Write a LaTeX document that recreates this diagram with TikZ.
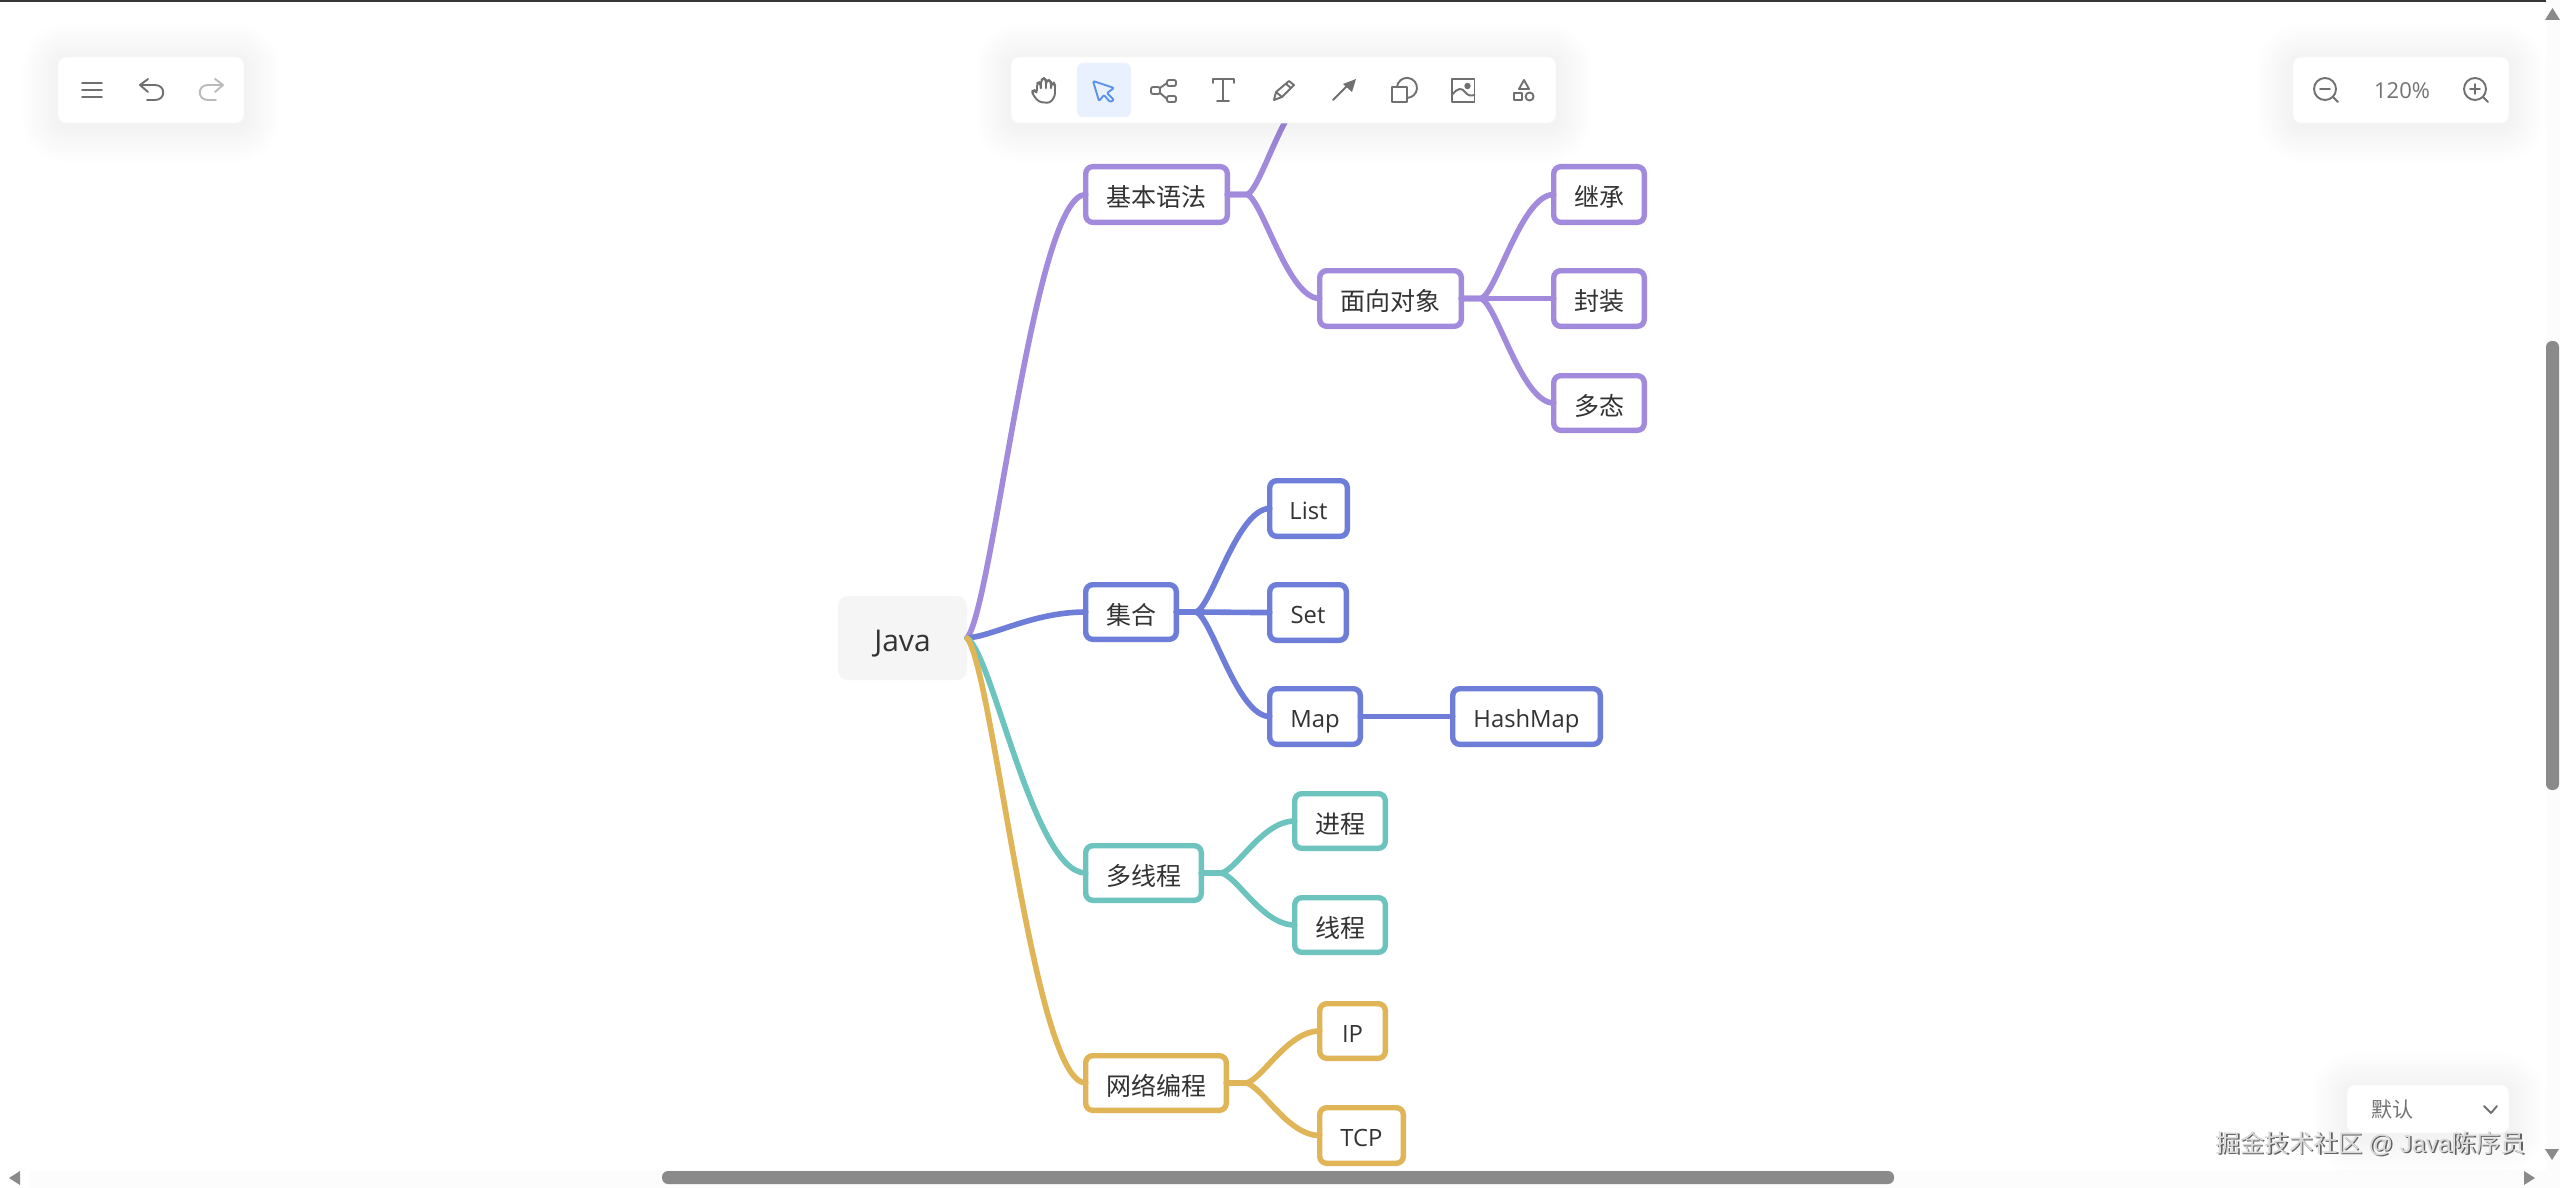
\documentclass[tikz,border=0pt]{standalone}
\usepackage{fontspec}
\setmainfont{Open Sans}
\newfontfamily\cjk{Noto Sans CJK SC}
\newfontfamily\wmfont{Liberation Sans}
\usetikzlibrary{calc}
\definecolor{cpurple}{HTML}{A28ADC}
\definecolor{cblue}{HTML}{6E7ED8}
\definecolor{cteal}{HTML}{6DC4BE}
\definecolor{cgold}{HTML}{DFB558}
\definecolor{ctext}{HTML}{333333}
\definecolor{cicon}{HTML}{707070}
\definecolor{cbar}{HTML}{8A8A8A}
\definecolor{ctrack}{HTML}{FCFCFC}
\definecolor{csel}{HTML}{E9F1FE}
\definecolor{ccur}{HTML}{5C93EC}
\tikzset{
  mapbox/.style={draw=#1,line width=2.7pt,fill=white,rounded corners=3.5pt,inner sep=0pt,outer sep=0pt,text=ctext,text height=11pt,text depth=0pt,font=\fontsize{12.5}{14}\selectfont},
  cjkbox/.style={mapbox=#1,text height=12.2pt},
  rootbox/.style={fill=black!4,rounded corners=5pt,inner sep=0pt,outer sep=0pt,text=ctext,text height=13.8pt,text depth=0pt,font=\fontsize{15}{18}\selectfont},
  link/.style={draw=#1,line width=2.8pt,line cap=round},
  iconline/.style={draw=cicon,line width=.95pt,line cap=round,line join=round},
  panelbox/.style={fill=white,draw=black!3,line width=.4pt,rounded corners=4pt},
}
\newcommand\latin{\fontsize{11.9}{14}\selectfont}
\newcommand\mapnode[7]{% name x1 y1 x2 y2 style text
  \pgfmathsetmacro\mw{(#4-#2-5.4)*0.5}\pgfmathsetmacro\mh{(#5-#3-5.4)*0.5}
  \node[#6,minimum width=\mw pt,minimum height=\mh pt] (#1) at ({(#2+#4)/2},{(#3+#5)/2}) {#7};}
% colour, from node, to node/coordinate, stub in pt
\newcommand\branch[4]{%
  \draw[link=#1] let \p1=(#2.east),\n1={\x1+#4},\p2=(#3) in (\p1) -- (\n1,\y1)
    .. controls ({\n1+0.22*(\x2-\n1)},{\y1+0.07*(\y2-\y1)}) and ({\n1+0.56*(\x2-\n1)},\y2) .. (\p2);}
\newcommand\panel[4]{%
  \foreach \i in {1,...,12}{\fill[black,opacity=.002,rounded corners={4pt+\i*1.5pt}] ({#1-\i*3},{#2-\i*3+3}) rectangle ({#3+\i*3},{#4+\i*3+3});}
  \path[panelbox] (#1,#2) rectangle (#3,#4);}
\begin{document}
\begin{tikzpicture}[x=0.5pt,y=-0.5pt]
\useasboundingbox (0,0) rectangle (2560,1188);
\fill[white] (0,0) rectangle (2560,1188);
% map nodes
\node[rootbox,minimum width=64.5pt,minimum height=42pt] (java) at (902.5,638) {Java};
\mapnode{jb}{1083}{164}{1230}{225}{cjkbox=cpurple}{\cjk 基本语法}
\mapnode{oo}{1317}{268}{1464}{329}{cjkbox=cpurple}{\cjk 面向对象}
\mapnode{jc}{1551}{164}{1647}{225}{cjkbox=cpurple}{\cjk 继承}
\mapnode{fz}{1551}{268}{1647}{329}{cjkbox=cpurple}{\cjk 封装}
\mapnode{dt}{1551}{373}{1647}{433}{cjkbox=cpurple}{\cjk 多态}
\mapnode{jh}{1083}{582}{1179}{642}{cjkbox=cblue}{\cjk 集合}
\mapnode{list}{1267}{478}{1350}{539}{mapbox=cblue}{\latin List}
\mapnode{set}{1267}{582}{1349}{643}{mapbox=cblue}{\latin Set}
\mapnode{map}{1267}{686}{1363}{747}{mapbox=cblue}{\latin Map}
\mapnode{hm}{1450}{686}{1603}{747}{mapbox=cblue}{\latin HashMap}
\mapnode{dx}{1083}{843}{1204}{903}{cjkbox=cteal}{\cjk 多线程}
\mapnode{jc2}{1292}{791}{1388}{851}{cjkbox=cteal}{\cjk 进程}
\mapnode{xc}{1292}{895}{1388}{955}{cjkbox=cteal}{\cjk 线程}
\mapnode{wl}{1083}{1053}{1229}{1113}{cjkbox=cgold}{\cjk 网络编程}
\mapnode{ip}{1317}{1001}{1388}{1061}{mapbox=cgold}{\latin IP}
\mapnode{tcp}{1317}{1105}{1406}{1166}{mapbox=cgold}{\latin TCP}
\coordinate (hid) at (1317,90);
% connectors
\coordinate (jbw) at (jb.west); \coordinate (jhw) at (jh.west); \coordinate (dxw) at (dx.west); \coordinate (wlw) at (wl.west);
\branch{cpurple}{java}{jbw}{0pt}
\branch{cblue}{java}{jhw}{0pt}
\branch{cteal}{java}{dxw}{0pt}
\branch{cgold}{java}{wlw}{0pt}
\foreach \c/\a/\b in {cpurple/jb/hid,cpurple/jb/oo.west,cpurple/oo/jc.west,cpurple/oo/fz.west,cpurple/oo/dt.west,
  cblue/jh/list.west,cblue/jh/set.west,cblue/jh/map.west,cblue/map/hm.west,
  cteal/dx/jc2.west,cteal/dx/xc.west,cgold/wl/ip.west,cgold/wl/tcp.west}{\branch{\c}{\a}{\b}{10pt}}
% top edge
\fill[black!78] (0,0) rectangle (2560,2);
% scrollbars
\fill[ctrack] (2546,0) rectangle (2560,1188);
\fill[ctrack] (30,1170) rectangle (2546,1188);
\fill[cbar,rounded corners=3pt] (2546,341) rectangle (2559,790);
\fill[cbar,rounded corners=3pt] (662,1171) rectangle (1894,1184);
\fill[cbar] (2552.5,8) -- (2560,20) -- (2545,20) -- cycle;
\fill[cbar] (2545,1149) -- (2559,1149) -- (2552,1160) -- cycle;
\fill[cbar] (9,1178) -- (20,1171) -- (20,1185) -- cycle;
\fill[cbar] (2535,1178) -- (2524,1171) -- (2524,1185) -- cycle;
% left panel
\panel{58}{57}{244}{123}
\draw[iconline] (82,83) -- (102,83) (82,90) -- (102,90) (82,97) -- (102,97);
\draw[iconline] (148,79) -- (140,85) -- (148,92) (140,85) -- (155,85) .. controls (166,85) and (166,100) .. (155,100) -- (147,100);
\draw[iconline,draw=black!27] (215,79) -- (223,85) -- (215,92) (223,85) -- (208,85) .. controls (197,85) and (197,100) .. (208,100) -- (216,100);
% centre toolbar
\panel{1011}{57}{1556}{123}
\fill[csel,rounded corners=3pt] (1077,63) rectangle (1131,117);
\draw[iconline,rounded corners=1.5pt] (1039,102) -- (1033,95) -- (1032,91) -- (1035,90) -- (1037,93) -- (1037,83) -- (1040,82) -- (1041,90) -- (1041,80) -- (1044,78) -- (1046,80) -- (1046,90) -- (1046,81) -- (1049,80) -- (1051,82) -- (1051,90) -- (1051,84) -- (1054,83) -- (1055,85) -- (1055,96) -- (1050,103) -- cycle;
\draw[iconline,draw=ccur,rounded corners=.6pt] (1093,81) -- (1114,88) -- (1107,93) -- (1114,100) -- (1110,102) -- (1104,95) -- (1099,101) -- cycle;
\draw[iconline,rounded corners=1pt] (1151,87) rectangle (1160,94) (1167,80) rectangle (1176,86) (1167,96) rectangle (1176,102);
\draw[iconline] (1160,88) -- (1167,83) (1160,93) -- (1167,99);
\draw[iconline] (1213,83) -- (1213,79) -- (1234,79) -- (1234,83) (1223,79) -- (1223,101) (1217,101) -- (1229,101);
\draw[iconline] (1274,100) -- (1276,92) -- (1289,81) -- (1294,85) -- (1282,97) -- cycle (1276,92) -- (1282,97) (1286,84) -- (1291,88);
\draw[iconline] (1333,100) -- (1348,85);
\fill[cicon] (1356,79) -- (1352,92) -- (1343,84) -- cycle;
\draw[iconline] (1392,87) rectangle (1407,102);
\draw[iconline] (1397,87) arc[start angle=175,end angle=-90,radius=5pt];
\draw[iconline] (1452,79) rectangle (1474.5,102);
\fill[cicon] (1467.5,86) circle (1.6pt);
\draw[iconline] (1452,95) .. controls (1458,87) and (1462,88) .. (1465,92) .. controls (1468,96) and (1471,96) .. (1474.5,95);
\draw[iconline] (1524,80) -- (1529,89) -- (1519,89) -- cycle;
\draw[iconline] (1514,93) rectangle (1522,100);
\draw[iconline] (1529.6,96.5) circle (2pt);
% zoom panel
\panel{2293}{57}{2509}{123}
\draw[iconline] (2325,89) circle (5.5pt) (2320,89) -- (2330,89) (2333,97) -- (2338,102);
\draw[iconline] (2475,89) circle (5.5pt) (2470,89) -- (2480,89) (2475,84) -- (2475,94) (2483,97) -- (2488,102);
\node[inner sep=0pt,text=black!55,font=\fontsize{11}{13}\selectfont] (zoomtxt) at (2402,91) {120\%};
% theme panel
\panel{2347}{1085}{2509}{1133}
\node[inner sep=0pt,text=black!55,font=\fontsize{10.5}{12}\selectfont\cjk] (theme) at (2392,1110) {默认};
\draw[iconline] (2484,1106) -- (2491,1113) -- (2497,1106);
% watermark
\node[inner sep=0pt,text=black!62,font=\fontsize{12.25}{14}\selectfont] (wms) at (2372,1145) {\cjk 掘金技术社区 \wmfont @ Java\cjk 陈序员};
\node[inner sep=0pt,text=black!15,font=\fontsize{12.25}{14}\selectfont] (wm) at (2370.5,1144) {\cjk 掘金技术社区 \wmfont @ Java\cjk 陈序员};
\end{tikzpicture}
\end{document}
